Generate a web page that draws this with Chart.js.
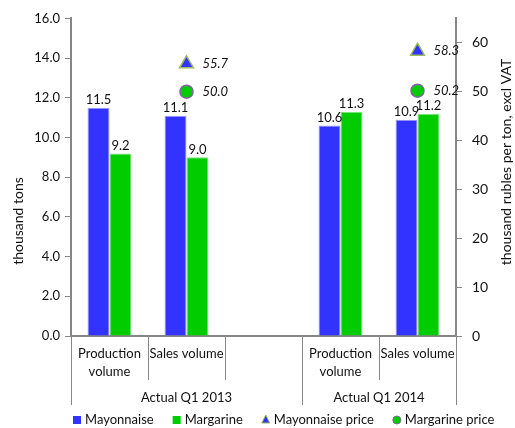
<!DOCTYPE html>
<html>
<head>
<meta charset="utf-8">
<script src="https://cdn.jsdelivr.net/npm/chart.js@4"></script>
<style>
  html, body { margin: 0; padding: 0; background: #fff; }
  #wrap { width: 515px; height: 428px; position: relative; }
</style>
</head>
<body>
<div id="wrap"><canvas id="chart"></canvas></div>
<script>
// categories (middle slot is an empty gap between the two periods)
const categories = [["Production", "volume"], ["Sales volume"], [""], ["Production", "volume"], ["Sales volume"]];
const periods = ["Actual Q1 2013", "Actual Q1 2014"];
const periodSpans = [[0, 3], [3, 5]];

// volumes, thousand tons
const mayonnaise = [11.5, 11.1, null, 10.6, 10.9];
const margarine = [9.2, 9.0, null, 11.3, 11.2];

// prices, thousand rubles per ton excl VAT
const mayonnaisePrice = [null, 55.7, null, null, 58.3];
const margarinePrice = [null, 50.0, null, null, 50.2];

const leftTicks = [0, 2, 4, 6, 8, 10, 12, 14, 16];
const rightTicks = [0, 10, 20, 30, 40, 50, 60];

const FONT = "Lato, 'Open Sans', sans-serif";
const TEXT = "#111";
const AXIS = "#868686";

// Подписи значений над столбцами и рядом с точками цен
const valueLabels = {
  id: "valueLabels",
  afterDatasetsDraw(chart) {
    const ctx = chart.ctx;
    ctx.save();
    chart.data.datasets.forEach((ds, i) => {
      const meta = chart.getDatasetMeta(i);
      meta.data.forEach((el, j) => {
        const v = ds.data[j];
        if (v == null) return;
        ctx.fillStyle = TEXT;
        if (ds.type === "bar") {
          ctx.font = "13px " + FONT;
          ctx.textAlign = "center";
          ctx.textBaseline = "bottom";
          ctx.fillText(v.toFixed(1), el.x, el.y - 1);
        } else {
          ctx.font = "italic 13px " + FONT;
          ctx.textAlign = "left";
          ctx.textBaseline = "middle";
          ctx.fillText(v.toFixed(1), el.x + 16, el.y);
        }
      });
    });
    ctx.restore();
  }
};

// Eixo X em dois níveis, títulos dos eixos e legenda
const decorations = {
  id: "decorations",
  afterDraw(chart) {
    const ctx = chart.ctx;
    const x = chart.scales.x;
    const area = chart.chartArea;
    const step = (x.right - x.left) / categories.length;
    const edge = i => x.left + step * i;
    ctx.save();

    // separators
    ctx.strokeStyle = AXIS;
    ctx.lineWidth = 1;
    for (let i = 0; i <= categories.length; i++) {
      const isGroup = periodSpans.some(s => s[0] === i || s[1] === i);
      const px = Math.round(edge(i)) + 0.5;
      ctx.beginPath();
      ctx.moveTo(px, area.bottom);
      ctx.lineTo(px, area.bottom + (isGroup ? 69 : 44));
      ctx.stroke();
    }

    // category labels
    ctx.fillStyle = TEXT;
    ctx.font = "13px " + FONT;
    ctx.textAlign = "center";
    ctx.textBaseline = "middle";
    categories.forEach((lines, i) => {
      const cx = x.getPixelForValue(i);
      lines.forEach((t, k) => ctx.fillText(t, cx, area.bottom + 18 + k * 18));
    });
    periods.forEach((p, k) => {
      const cx = (edge(periodSpans[k][0]) + edge(periodSpans[k][1])) / 2;
      ctx.fillText(p, cx, area.bottom + 62);
    });

    // axis titles
    ctx.font = "14px " + FONT;
    ctx.save();
    ctx.translate(18, 221);
    ctx.rotate(-Math.PI / 2);
    ctx.fillText("thousand tons", 0, 0);
    ctx.restore();
    ctx.save();
    ctx.translate(506, 162);
    ctx.rotate(-Math.PI / 2);
    ctx.fillText("thousand rubles per ton, excl VAT", 0, 0);
    ctx.restore();

    // legend
    ctx.font = "13px " + FONT;
    ctx.textAlign = "left";
    let lx = 73;
    const ly = 420;
    chart.data.datasets.forEach(ds => {
      if (ds.type === "bar") {
        ctx.fillStyle = ds.backgroundColor;
        ctx.fillRect(lx, ly - 4, 8, 8);
      } else if (ds.pointStyle === "triangle") {
        ctx.fillStyle = ds.pointBackgroundColor;
        ctx.strokeStyle = ds.pointBorderColor;
        ctx.beginPath();
        ctx.moveTo(lx + 4, ly - 5);
        ctx.lineTo(lx + 8, ly + 3);
        ctx.lineTo(lx, ly + 3);
        ctx.closePath();
        ctx.fill();
        ctx.stroke();
      } else {
        ctx.fillStyle = ds.pointBackgroundColor;
        ctx.strokeStyle = ds.pointBorderColor;
        ctx.beginPath();
        ctx.arc(lx + 4, ly, 4, 0, Math.PI * 2);
        ctx.fill();
        ctx.stroke();
      }
      ctx.fillStyle = TEXT;
      ctx.fillText(ds.label, lx + 12, ly);
      lx += 12 + ctx.measureText(ds.label).width + 19;
    });
    ctx.restore();
  }
};

new Chart(document.getElementById("chart"), {
  data: {
    labels: categories,
    datasets: [
      { type: "bar", label: "Mayonnaise", data: mayonnaise, yAxisID: "y",
        backgroundColor: "#3333ff", borderColor: "#9a9aff", borderWidth: 1, order: 2 },
      { type: "bar", label: "Margarine", data: margarine, yAxisID: "y",
        backgroundColor: "#00cc00", borderColor: "#80e680", borderWidth: 1, order: 2 },
      { type: "line", label: "Mayonnaise price", data: mayonnaisePrice, yAxisID: "y2",
        showLine: false, pointStyle: "triangle", pointRadius: 8,
        pointBackgroundColor: "#3333ff", pointBorderColor: "#9bbb59", pointBorderWidth: 1.5, order: 1 },
      { type: "line", label: "Margarine price", data: margarinePrice, yAxisID: "y2",
        showLine: false, pointStyle: "circle", pointRadius: 6.5,
        pointBackgroundColor: "#00cc00", pointBorderColor: "#8064a2", pointBorderWidth: 1.5, order: 1 }
    ]
  },
  options: {
    responsive: true,
    maintainAspectRatio: false,
    animation: false,
    layout: { padding: { top: 15, left: 0, right: 0, bottom: 0 } },
    plugins: { legend: { display: false }, tooltip: { enabled: false } },
    datasets: { bar: { categoryPercentage: 0.57, barPercentage: 1 } },
    scales: {
      x: {
        offset: true,
        grid: { display: false },
        border: { display: true, color: AXIS, width: 2 },
        ticks: { display: false },
        afterFit: s => { s.height = 92; }
      },
      y: {
        position: "left",
        min: leftTicks[0], max: leftTicks[leftTicks.length - 1],
        afterBuildTicks: s => { s.ticks = leftTicks.map(v => ({ value: v })); },
        ticks: { callback: v => v.toFixed(1), color: TEXT, font: { family: FONT, size: 13 }, padding: 5 },
        grid: { drawOnChartArea: false, tickLength: 6, color: AXIS },
        border: { color: AXIS, width: 2 },
        afterFit: s => { s.width = 71; }
      },
      y2: {
        position: "right",
        min: 0, max: 65,
        afterBuildTicks: s => { s.ticks = rightTicks.map(v => ({ value: v })); },
        ticks: { color: TEXT, font: { family: FONT, size: 14 }, padding: 10 },
        grid: { drawOnChartArea: false, tickLength: 6, color: AXIS },
        border: { color: AXIS, width: 2 },
        afterFit: s => { s.width = 59; }
      }
    }
  },
  plugins: [valueLabels, decorations]
});
</script>
</body>
</html>
